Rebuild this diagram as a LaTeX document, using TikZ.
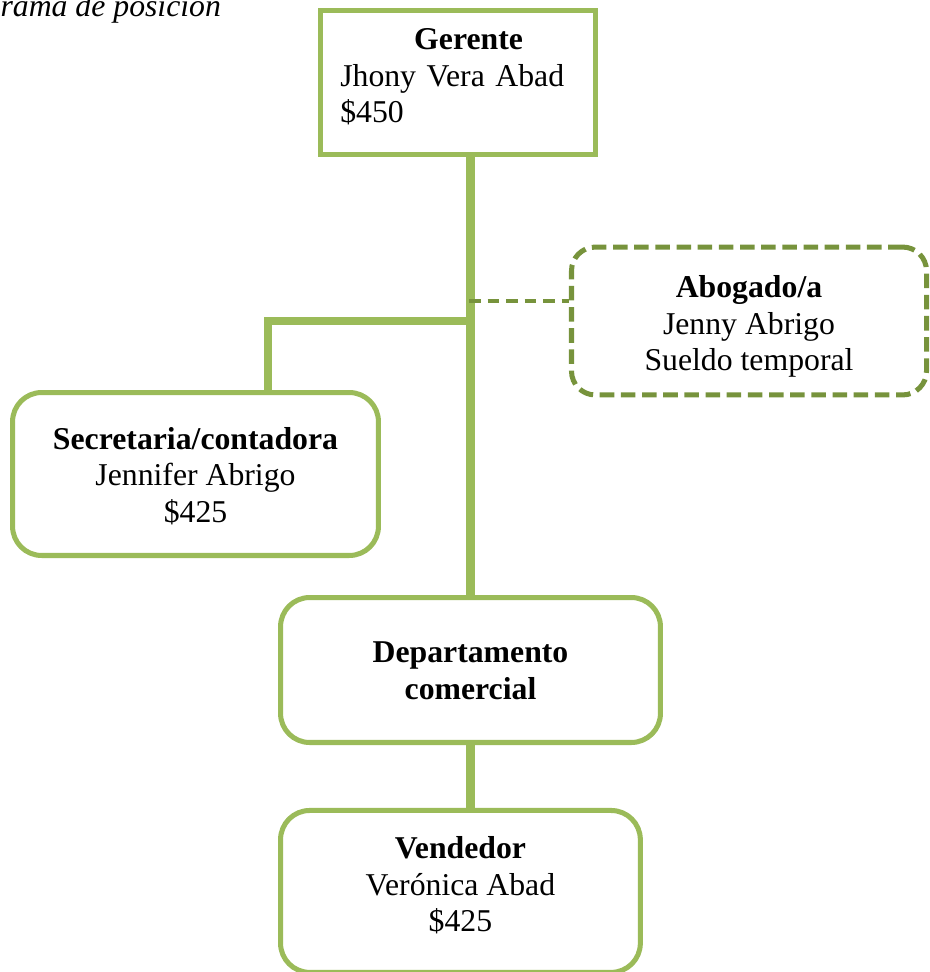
\documentclass[tikz,border=0pt]{standalone}
\usepackage{fontspec}
\setmainfont{Liberation Serif}
\usetikzlibrary{positioning, calc}
\definecolor{verdeorg}{HTML}{9BBB59}
\definecolor{verdeosc}{HTML}{77933C}
\tikzstyle{cargo} = [rectangle, draw=verdeorg, line width=1.9pt, align=center, font=\fontsize{12}{13.8}\selectfont, inner sep=0pt, text depth=0pt]
\tikzstyle{cargored} = [cargo, rounded corners=11pt]
\tikzstyle{asesor} = [cargo, draw=verdeosc, rounded corners=9pt, dash pattern=on 5.5pt off 2.5pt]
\tikzstyle{linea} = [draw=verdeorg, line width=3.2pt]
\tikzstyle{lineapunt} = [draw=verdeosc, line width=1.6pt, dash pattern=on 4.5pt off 2.5pt]

\begin{document}
\begin{tikzpicture}[x=0.378pt, y=-0.378pt]
    \clip (0,0) rectangle (929,972);
    \useasboundingbox (0,0) rectangle (929,972);
    % Titulo (cortado arriba)
    \node (titulo) [anchor=base west, inner sep=0pt, font=\fontsize{12}{13.8}\selectfont\itshape] at (0,16) {rama de posición};

    % Gerencia
    \node (ger) [cargo, minimum width=104pt, minimum height=54.4pt, text width=89pt, align=left, text height=8pt, text depth=32.6pt] at (458,82.5)
        {\hspace*{\fill}\hspace*{8pt}\textbf{Gerente}\hspace*{\fill}\null\\ Jhony Vera Abad\\ \$450};

    % Staff
    \node (abo) [asesor, minimum width=134.2pt, minimum height=55.9pt, text height=37.6pt] at (749,321)
        {\textbf{Abogado/a}\\ Jenny Abrigo\\ Sueldo temporal};
    \node (sec) [cargored, minimum width=138.3pt, minimum height=61.6pt, text height=36.6pt] at (195.5,474)
        {\textbf{Secretaria/contadora}\\ Jennifer Abrigo\\ \$425};

    % Linea comercial
    \node (dep) [cargored, minimum width=143.6pt, minimum height=54.8pt, text height=22pt] at (470.5,670)
        {\textbf{Departamento}\\ \textbf{comercial}};
    \node (ven) [cargored, minimum width=136pt, minimum height=61.2pt, text height=30.6pt, below=23.8pt of dep, xshift=-3.8pt]
        {\textbf{Vendedor}\\ Verónica Abad\\ \$425};

    \coordinate (rama) at (469,321);
    \coordinate (aseso) at (469,301);
    \coordinate (secarr) at ([xshift=27.4pt]sec.north);

    \draw [linea] (dep.north) -- (dep.north |- ger.south);
    \draw [linea] (rama) -| (secarr);
    \draw [lineapunt] (aseso) -- (aseso -| abo.west);
    \draw [linea] (dep.south) -- (dep.south |- ven.north);
\end{tikzpicture}
\end{document}
